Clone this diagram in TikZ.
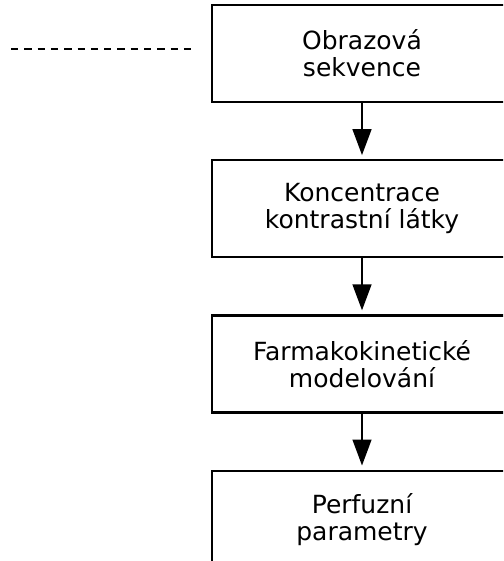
\documentclass[tikz,border=0pt]{standalone}
\usepackage{fontspec}
\setmainfont{DejaVu Sans}
\usetikzlibrary{positioning,arrows.meta}

\tikzset{
    blok/.style={draw,line width=2.2pt,minimum width=300pt,minimum height=97pt,
        align=center,inner sep=0pt,font=\fontsize{25}{27}\selectfont},
    sipka/.style={line width=1.5pt,-{Triangle[length=26pt,width=19pt]},shorten >=4pt}
}

\begin{document}
\begin{tikzpicture}[x=1pt,y=1pt,node distance=56pt]

    \useasboundingbox (0,0) rectangle (503,-561);
    \clip (0,0) rectangle (503,-561);

    %bloky
    \node[blok] (obraz) at (362,-53.5) {Obrazová\\sekvence};
    \node[blok,below=of obraz] (konc) {Koncentrace\\kontrastní látky};
    \node[blok,below=of konc] (farm) {Farmakokinetické\\modelování};
    \node[blok,below=of farm] (perf) {Perfuzní\\parametry};

    %sipky
    \draw[sipka] (obraz) -- (konc);
    \draw[sipka] (konc) -- (farm);
    \draw[sipka] (farm) -- (perf);

    %carkovana cara
    \coordinate (c1) at (11,-49);
    \coordinate (c2) at (193,-49);
    \draw[line width=1.6pt,dash pattern=on 7.3pt off 6pt] (c1) -- (c2);

\end{tikzpicture}
\end{document}
